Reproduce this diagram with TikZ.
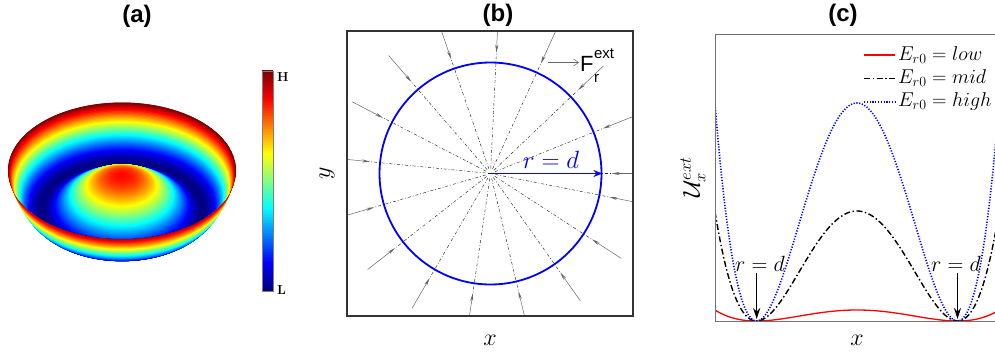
\RequirePackage{fix-cm}
\documentclass[tikz,border=0pt]{standalone}
\usepackage{fontspec}
\newfontfamily\arialf{Liberation Sans}
\usetikzlibrary{arrows.meta}
\newcommand\mkjet[2]{%
  \pgfmathsetmacro\jr{max(0,min(1,1.5-abs(4*#2-3)))}%
  \pgfmathsetmacro\jg{max(0,min(1,1.5-abs(4*#2-2)))}%
  \pgfmathsetmacro\jb{max(0,min(1,1.5-abs(4*#2-1)))}%
  \definecolor{#1}{rgb}{\jr,\jg,\jb}}
\newcommand\bowlz[1]{%
  \pgfmathsetmacro\zz{#1>0.6943 ? ((#1*#1-0.482)/0.518)^2 : 0.87*(max(0.000001,1-#1*#1/0.482))^1.5}}
\tikzset{
  paneltitle/.style={font=\arialf\bfseries\fontsize{24}{24}\selectfont},
  axlabel/.style={font=\fontsize{24}{24}\selectfont},
  raydash/.style={black!85, line width=0.45pt, dash pattern=on 3pt off 2pt on 0.8pt off 2pt},
  forcearrow/.style={black!60, line width=0.5pt, -{Stealth[length=8pt,width=3pt]}},
  legtext/.style={anchor=west, font=\fontsize{20}{20}\selectfont, inner sep=0pt},
  rdlabel/.style={font=\fontsize{22}{22}\selectfont, inner sep=1pt},
  rdarrow/.style={black, line width=1.5pt, -{Stealth[length=11pt,width=7pt]}},
}
\begin{document}
\begin{tikzpicture}[x=1pt,y=-1pt]
\useasboundingbox (0,0) rectangle (995,359);

% ---------------- titles
\node[paneltitle] (ta) at (137,16) {(a)};
\node[paneltitle] (tb) at (498,15) {(b)};
\node[paneltitle] (tc) at (843,15) {(c)};

% ---------------- panel (a): bowl
\foreach \i in {0,...,100} {
  \pgfmathsetmacro\rr{0.6+0.004*\i}
  \bowlz{\rr}
  \pgfmathsetmacro\yc{170.5+(1-\zz)*40}
  \pgfmathsetmacro\ra{114*\rr}
  \pgfmathsetmacro\rb{68*\rr}
  \mkjet{jc}{\zz}
  \fill[jc] (122,\yc) ellipse [x radius=\ra pt, y radius=\rb pt];
}
\begin{scope}
  \clip (122,170.5) ellipse [x radius=114pt, y radius=68pt];
  \foreach \i in {0,...,249} {
    \pgfmathsetmacro\rr{1-0.004*\i}
    \bowlz{\rr}
    \pgfmathsetmacro\yc{170.5+(1-\zz)*40}
    \pgfmathsetmacro\ra{114*\rr}
    \pgfmathsetmacro\rb{68*\rr}
    \mkjet{jc}{\zz}
    \fill[jc] (122,\yc) ellipse [x radius=\ra pt, y radius=\rb pt];
  }
\end{scope}

% colour bar
\foreach \i in {0,...,109} {
  \pgfmathsetmacro\tt{\i/109}
  \mkjet{jc}{\tt}
  \fill[jc] (262.3,{290.7-2*\i}) rectangle (273.3,{290.7-2*\i-2.3});
}
\draw[black!50, line width=0.4pt] (262.3,70.7) rectangle (273.3,290.7);
\node[font=\bfseries\fontsize{13}{13}\selectfont, anchor=west, inner sep=0pt] (cbh) at (277,77) {H};
\node[font=\bfseries\fontsize{13}{13}\selectfont, anchor=west, inner sep=0pt] (cbl) at (277,290) {L};

% ---------------- panel (b)
\begin{scope}
  \clip (347,31) rectangle (633,316);
  \begin{scope}[shift={(490.5,173.5)}, y=1pt]
    \foreach \k in {0,...,16} {
      \pgfmathsetmacro\aa{\k*21.8}
      \draw[raydash] (\aa:5) -- (\aa:122);
      \draw[forcearrow] (\aa:156) -- (\aa:121);
    }
  \end{scope}
\end{scope}
\draw[black!80, line width=1.8pt] (347,31) rectangle (633,316);
\node[draw=blue, line width=1.8pt, circle, minimum size=222pt, inner sep=0pt] (circ) at (490.5,173.5) {};
\coordinate (cen) at (488,173.5);
\draw[blue, line width=1.9pt, -{Stealth[length=9pt,width=7pt]}] (cen) -- (circ.east);
\node[blue, font=\fontsize{25}{25}\selectfont] (rdb) at (551,160) {$r=d$};
\coordinate (fa1) at (548,62.5);
\coordinate (fa2) at (579,62.5);
\draw[black!60, line width=0.5pt, -{Straight Barb[length=5pt,width=7pt]}] (fa1) -- (fa2);
\node[anchor=west, inner sep=0pt, font=\arialf\fontsize{22}{22}\selectfont] (flab) at (580,64) {F};
\node[anchor=south west, inner sep=0pt, font=\arialf\fontsize{15}{15}\selectfont] (fsup) at ([yshift=-3pt]flab.north east) {ext};
\node[anchor=north west, inner sep=0pt, font=\arialf\fontsize{15}{15}\selectfont] (fsub) at ([yshift=-2pt]flab.south east) {r};
\node[axlabel] (xb) at (490,340) {$x$};
\node[axlabel, rotate=90] (yb) at (327,173) {$y$};

% ---------------- panel (c)
\begin{scope}
  \clip (715,34.3) rectangle (1000,321);
  \draw[red, line width=1.3pt] plot[domain=715:1000, samples=200]
    (\x, {321-11*(((\x-857)/100.5)*((\x-857)/100.5)-1)*(((\x-857)/100.5)*((\x-857)/100.5)-1)});
  \draw[black, line width=1.4pt, dash pattern=on 6pt off 2.5pt on 1.5pt off 2.5pt] plot[domain=715:1000, samples=200]
    (\x, {321-110*(((\x-857)/100.5)*((\x-857)/100.5)-1)*(((\x-857)/100.5)*((\x-857)/100.5)-1)});
  \draw[blue, line width=1.6pt, dash pattern=on 1.2pt off 1.6pt] plot[domain=715:1000, samples=300]
    (\x, {321-218*(((\x-857)/100.5)*((\x-857)/100.5)-1)*(((\x-857)/100.5)*((\x-857)/100.5)-1)});
\end{scope}
\draw[black!55, line width=0.9pt] (1000,34.3) -- (715,34.3) -- (715,321) -- (1000,321);
% legend
\coordinate (l1a) at (864,55);   \coordinate (l1b) at (895,55);
\coordinate (l2a) at (864,78.3); \coordinate (l2b) at (895,78.3);
\coordinate (l3a) at (864,101.7);\coordinate (l3b) at (895,101.7);
\draw[red, line width=1.3pt] (l1a) -- (l1b);
\draw[black, line width=1.4pt, dash pattern=on 6pt off 2.5pt on 1.5pt off 2.5pt] (l2a) -- (l2b);
\draw[blue, line width=1.6pt, dash pattern=on 1.2pt off 1.6pt] (l3a) -- (l3b);
\node[legtext] (lt1) at (898,55) {$E_{r0}=low$};
\node[legtext] (lt2) at (898,78.3) {$E_{r0}=mid$};
\node[legtext] (lt3) at (898,101.7) {$E_{r0}=high$};
% r=d markers
\node[rdlabel] (rdl) at (760,264) {$r=d$};
\node[rdlabel] (rdr) at (956,264) {$r=d$};
\coordinate (mL) at (756.7,319);
\coordinate (mR) at (957.5,319);
\draw[rdarrow] (rdl.south -| mL) -- (mL);
\draw[rdarrow] (rdr.south -| mR) -- (mR);
\node[axlabel] (xc) at (857,340) {$x$};
\node[axlabel, rotate=90] (uc) at (693,177) {$\mathcal{U}_x^{ext}$};
\end{tikzpicture}
\end{document}
